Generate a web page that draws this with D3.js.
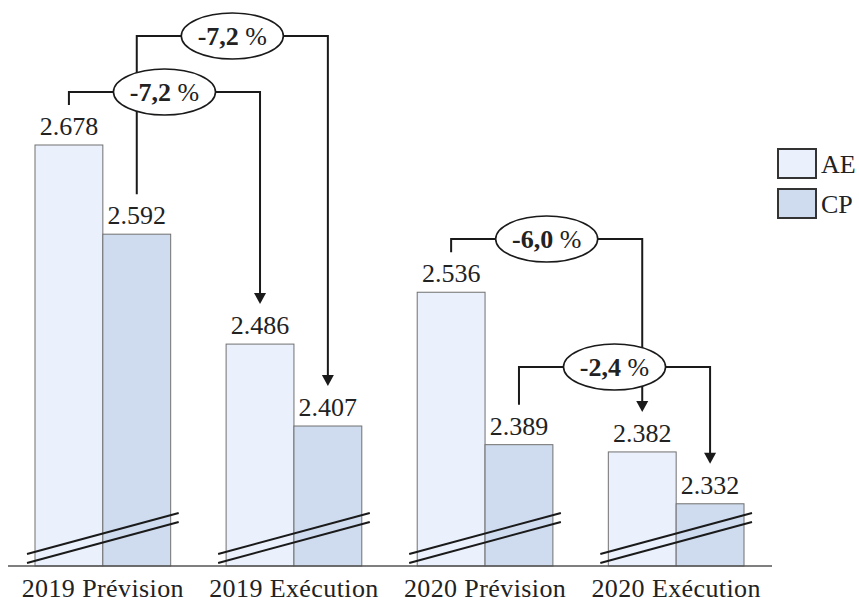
<!DOCTYPE html>
<html>
<head>
<meta charset="utf-8">
<script src="https://cdn.jsdelivr.net/npm/d3@7"></script>
<style>
  html, body { margin: 0; padding: 0; background: #ffffff; }
  svg { display: block; }
  text { font-family: "Liberation Serif", "Times New Roman", serif; fill: #222; }
</style>
</head>
<body>
<div id="chart"></div>
<script>
// Budget credits (in millions), forecast vs. execution
const categories = ["2019 Prévision", "2019 Exécution", "2020 Prévision", "2020 Exécution"];
const series = ["AE", "CP"];
const aeValues = [2.678, 2.486, 2.536, 2.382];
const cpValues = [2.592, 2.407, 2.389, 2.332];
const valueLabels = {
  AE: ["2.678", "2.486", "2.536", "2.382"],
  CP: ["2.592", "2.407", "2.389", "2.332"]
};

// Change between forecast and execution
const changeFrom = [["2019 Prévision", "AE"], ["2019 Prévision", "CP"], ["2020 Prévision", "AE"], ["2020 Prévision", "CP"]];
const changeTo   = [["2019 Exécution", "AE"], ["2019 Exécution", "CP"], ["2020 Exécution", "AE"], ["2020 Exécution", "CP"]];
const changeText = ["-7,2", "-7,2", "-6,0", "-2,4"];

// Drawing layout
const W = 859, H = 597;
const baseY = 566;
const axisFloor = 2.272;          // value sitting on the broken baseline
const bracketY = [92, 36, 239, 367]; // height of each change bracket
const colors = { AE: "#eaf1fc", CP: "#cfdcef" };

const values = { AE: aeValues, CP: cpValues };
const rows = [];
categories.forEach((c, i) => series.forEach(s => rows.push({ cat: c, s, v: values[s][i], label: valueLabels[s][i] })));

const svg = d3.select("#chart").append("svg").attr("width", W).attr("height", H);

const x = d3.scaleBand().domain(categories).range([35, 744]).paddingInner(0.29).paddingOuter(0);
const xs = d3.scaleBand().domain(series).range([0, x.bandwidth()]).padding(0);
const y = d3.scaleLinear().domain([axisFloor, d3.max(aeValues.concat(cpValues))]).range([baseY, 145]);

const cx = (cat, s) => x(cat) + xs(s) + xs.bandwidth() / 2;
const valueOf = (cat, s) => values[s][categories.indexOf(cat)];

// Bars
svg.append("g").selectAll("rect").data(rows).join("rect")
  .attr("x", d => x(d.cat) + xs(d.s))
  .attr("y", d => y(d.v))
  .attr("width", xs.bandwidth())
  .attr("height", d => baseY - y(d.v))
  .attr("fill", d => colors[d.s])
  .attr("stroke", "#707070")
  .attr("stroke-width", 1);

// Axis break marks
const breaks = svg.append("g").attr("stroke", "#1a1a1a").attr("stroke-width", 2);
categories.forEach(c => {
  [0, 9].forEach(off => {
    breaks.append("line")
      .attr("x1", x(c) - 8).attr("y1", baseY - 12 + off)
      .attr("x2", x(c) + x.bandwidth() + 8).attr("y2", baseY - 53 + off);
  });
});

// Baseline
svg.append("line").attr("x1", 8).attr("x2", 772).attr("y1", baseY).attr("y2", baseY)
  .attr("stroke", "#555").attr("stroke-width", 1.5);

// Category labels
svg.append("g").selectAll("text").data(categories).join("text")
  .attr("x", d => x(d) + x.bandwidth() / 2)
  .attr("y", 597)
  .attr("text-anchor", "middle")
  .attr("font-size", 26)
  .attr("letter-spacing", 0.4)
  .text(d => d);

// Value labels
svg.append("g").selectAll("text").data(rows).join("text")
  .attr("x", d => x(d.cat) + xs(d.s) + xs.bandwidth() / 2)
  .attr("y", d => y(d.v) - 10)
  .attr("text-anchor", "middle")
  .attr("font-size", 26)
  .text(d => d.label);

// Change brackets
const ann = svg.append("g");
const lines = ann.append("g").attr("fill", "none").attr("stroke", "#1a1a1a").attr("stroke-width", 2);
const heads = ann.append("g").attr("fill", "#1a1a1a");
changeText.forEach((t, i) => {
  const [fc, fs] = changeFrom[i], [tc, ts] = changeTo[i];
  const x1 = cx(fc, fs), x2 = cx(tc, ts);
  const y1 = y(valueOf(fc, fs)) - 40;
  const y2 = y(valueOf(tc, ts)) - 40;
  const by = bracketY[i];
  lines.append("path").attr("d", `M${x1},${y1}V${by}H${x2}V${y2 - 10}`);
  heads.append("path").attr("d", `M${x2 - 6},${y2 - 11}L${x2 + 6},${y2 - 11}L${x2},${y2}Z`);
});
changeText.forEach((t, i) => {
  const [fc, fs] = changeFrom[i], [tc, ts] = changeTo[i];
  const mx = (cx(fc, fs) + cx(tc, ts)) / 2;
  const by = bracketY[i];
  ann.append("ellipse").attr("cx", mx).attr("cy", by).attr("rx", 51).attr("ry", 23)
    .attr("fill", "#fff").attr("stroke", "#1a1a1a").attr("stroke-width", 1.6);
  const tx = ann.append("text").attr("x", mx).attr("y", by + 9)
    .attr("text-anchor", "middle").attr("font-size", 26);
  tx.append("tspan").attr("font-weight", "bold").text(t);
  tx.append("tspan").text(" %");
});

// Legend
const legend = svg.append("g");
series.forEach((s, i) => {
  legend.append("rect").attr("x", 778).attr("y", 149 + i * 40).attr("width", 38).attr("height", 29)
    .attr("fill", colors[s]).attr("stroke", "#333").attr("stroke-width", 2);
  legend.append("text").attr("x", 821).attr("y", 173 + i * 40).attr("font-size", 26).text(s);
});
</script>
</body>
</html>
